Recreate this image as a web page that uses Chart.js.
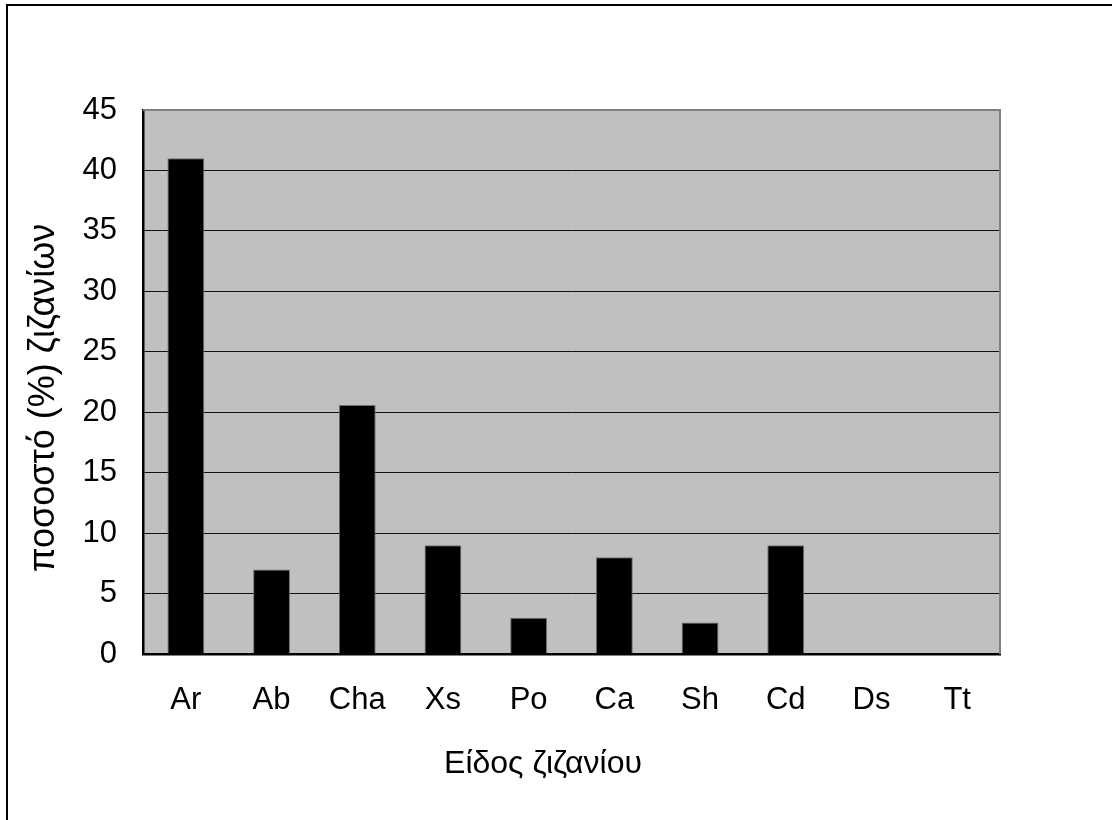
<!DOCTYPE html>
<html>
<head>
<meta charset="utf-8">
<script src="https://cdn.jsdelivr.net/npm/chart.js@4/dist/chart.umd.min.js"></script>
<style>
  html, body { margin: 0; padding: 0; background: #fff; overflow: hidden; }
  #wrap { position: relative; width: 1112px; height: 820px; }
  #frame { position: absolute; left: 6px; top: 4px; width: 1200px; height: 900px;
           border: 2.5px solid #000; box-sizing: border-box; pointer-events: none; }
  canvas { position: absolute; left: 0; top: 0; }
</style>
</head>
<body>
<div id="wrap">
  <canvas id="c" width="1112" height="820"></canvas>
  <div id="frame"></div>
</div>
<script>
// Weed species and their share of the total weed count (%)
const categories = ['Ar', 'Ab', 'Cha', 'Xs', 'Po', 'Ca', 'Sh', 'Cd', 'Ds', 'Tt'];
const percentages = [41, 7, 20.6, 9, 3, 8, 2.6, 9, 0, 0];
const yTicks = [0, 5, 10, 15, 20, 25, 30, 35, 40, 45];

const xTitle = 'Είδος ζιζανίου';
const yTitle = 'ποσοστό (%) ζιζανίων';

const FONT = '"Liberation Sans", Arial, sans-serif';

// Grey plot background plus the lighter top/right frame and the axis titles
const plotDecor = {
  id: 'plotDecor',
  beforeDraw(chart) {
    const { ctx, chartArea: a } = chart;
    ctx.save();
    ctx.fillStyle = '#c0c0c0';
    ctx.fillRect(a.left, a.top, a.right - a.left, a.bottom - a.top);
    ctx.restore();
  },
  afterDraw(chart) {
    const { ctx, chartArea: a } = chart;
    ctx.save();
    ctx.strokeStyle = '#808080';
    ctx.lineWidth = 2;
    ctx.beginPath();
    ctx.moveTo(a.left, a.top);
    ctx.lineTo(a.right, a.top);
    ctx.lineTo(a.right, a.bottom);
    ctx.stroke();

    ctx.fillStyle = '#000';
    ctx.textAlign = 'center';
    ctx.textBaseline = 'alphabetic';
    ctx.font = '32px ' + FONT;
    ctx.fillText(xTitle, 543, 773);

    ctx.font = '36px ' + FONT;
    ctx.translate(54, 398);
    ctx.rotate(-Math.PI / 2);
    ctx.fillText(yTitle, 0, 0);
    ctx.restore();
  }
};

new Chart(document.getElementById('c'), {
  type: 'bar',
  data: {
    labels: categories,
    datasets: [{
      data: percentages,
      backgroundColor: '#000',
      borderColor: '#707070',
      borderWidth: 1,
      categoryPercentage: 1,
      barPercentage: 0.43
    }]
  },
  options: {
    responsive: false,
    animation: false,
    layout: { padding: { left: 0, top: 110, right: 112, bottom: 0 } },
    plugins: { legend: { display: false }, tooltip: { enabled: false } },
    scales: {
      x: {
        afterFit(s) { s.height = 166; },
        grid: { display: false, drawTicks: false },
        border: { display: true, color: '#000', width: 2.5 },
        ticks: { color: '#000', padding: 28, font: { family: FONT, size: 31 } }
      },
      y: {
        min: 0,
        max: 45,
        afterFit(s) { s.width = 143; },
        afterBuildTicks(s) { s.ticks = yTicks.map(v => ({ value: v })); },
        grid: { color: '#111', lineWidth: 1, drawTicks: false },
        border: { display: true, color: '#000', width: 2.5 },
        ticks: { color: '#000', padding: 26, font: { family: FONT, size: 31 } }
      }
    }
  },
  plugins: [plotDecor]
});
</script>
</body>
</html>
